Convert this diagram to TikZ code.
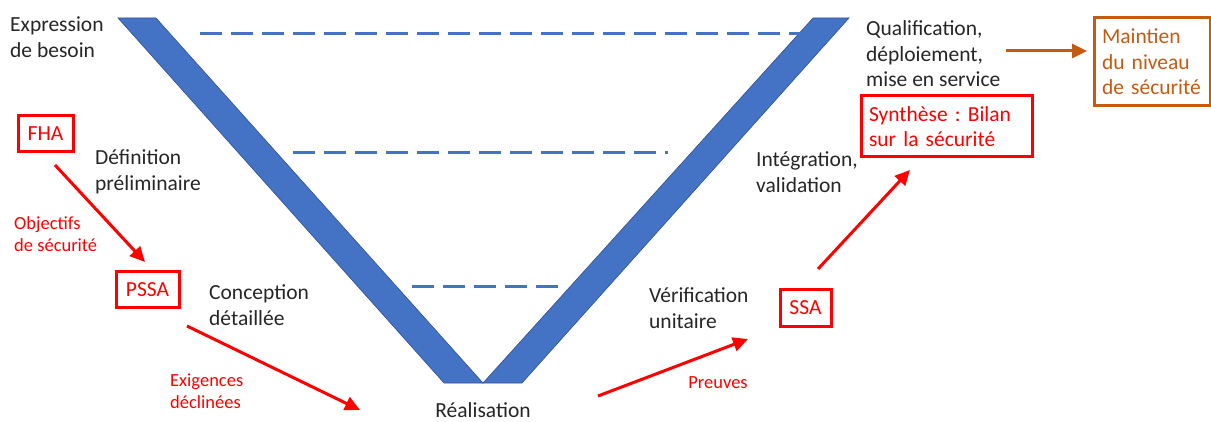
\documentclass[tikz,border=0pt]{standalone}
\usepackage{fontspec}
\setmainfont{Carlito}
\usetikzlibrary{arrows.meta}
\definecolor{vblue}{HTML}{4472C4}
\definecolor{vedge}{HTML}{2F528F}
\definecolor{sred}{HTML}{FF0000}
\definecolor{sorange}{HTML}{C55A11}
\definecolor{txt}{HTML}{262626}
\frenchspacing
\begin{document}
\begin{tikzpicture}[x=1pt,y=-1pt,
  phase/.style={anchor=west,inner sep=0pt,align=left,text=txt,font=\fontsize{21.5}{25.5}\selectfont},
  lbl/.style={anchor=west,inner sep=0pt,align=left,text=sred,font=\fontsize{18.5}{22.5}\selectfont},
  sbox/.style={draw=sred,line width=3pt,text=sred,inner sep=0pt,font=\fontsize{21.5}{25.5}\selectfont},
  arm/.style={fill=vblue,draw=vedge,line width=0.6pt},
  lvl/.style={draw=vblue,line width=3pt,dash pattern=on 22pt off 9pt},
  sarrow/.style={draw=sred,line width=3pt,-{Triangle[length=15pt,width=14pt]}},
  oarrow/.style={draw=sorange,line width=3pt,-{Triangle[length=15pt,width=14pt]}}
]
\useasboundingbox (0,0) rectangle (1211,422);
% V shape
\path[arm] (118,18) -- (156,18) -- (483,383) -- (444,383) -- cycle;
\path[arm] (483,383) -- (522,383) -- (849,18) -- (813,18) -- cycle;
% levels
\coordinate (l1a) at (200,34); \coordinate (l1b) at (810,34);
\coordinate (l2a) at (293,153); \coordinate (l2b) at (668,153);
\coordinate (l3a) at (412,287); \coordinate (l3b) at (558,287);
\draw[lvl] (l1a) -- (l1b);
\draw[lvl] (l2a) -- (l2b);
\draw[lvl] (l3a) -- (l3b);
% phase texts
\node[phase] (exp) at (10,37) {Expression\\de besoin};
\node[phase] (def) at (95,172) {Définition\\préliminaire};
\node[phase] (con) at (209,305) {Conception\\détaillée};
\node[phase,anchor=center] (rea) at (483,410) {Réalisation};
\node[phase] (ver) at (649,308) {Vérification\\unitaire};
\node[phase] (int) at (756,172) {Intégration,\\validation};
\node[phase] (qua) at (866,54) {Qualification,\\déploiement,\\mise en service};
% safety boxes
\node[sbox,minimum width=55pt,minimum height=36pt] (fha) at (45.5,134) {FHA};
\node[sbox,minimum width=63pt,minimum height=36pt] (pssa) at (147.5,290) {PSSA};
\node[sbox,minimum width=51pt,minimum height=36pt] (ssa) at (805.5,308) {SSA};
\node[sbox,minimum width=171pt,minimum height=61pt,text width=155pt,align=left] (syn) at (946.5,126.5) {Synthèse : Bilan\\sur la sécurité};
\node[sbox,draw=sorange,text=sorange,minimum width=116pt,minimum height=88pt,text width=100pt,align=left] (mai) at (1152,62) {Maintien\\du niveau\\de sécurité};
% labels
\node[lbl] (obj) at (14,234) {Objectifs\\de sécurité};
\node[lbl] (exi) at (170,391) {Exigences\\déclinées};
\node[lbl,anchor=center] (pre) at (718,383) {Preuves};
% arrows
\coordinate (a1s) at (55,165); \coordinate (a1e) at (145,262);
\coordinate (a2s) at (187,326); \coordinate (a2e) at (360,410);
\coordinate (a3s) at (598,396); \coordinate (a3e) at (748,339);
\coordinate (a4s) at (818,269); \coordinate (a4e) at (910,170);
\coordinate (a5s) at (1006,51); \coordinate (a5e) at (1087,51);
\draw[sarrow] (a1s) -- (a1e);
\draw[sarrow] (a2s) -- (a2e);
\draw[sarrow] (a3s) -- (a3e);
\draw[sarrow] (a4s) -- (a4e);
\draw[oarrow] (a5s) -- (a5e);
\end{tikzpicture}
\end{document}
